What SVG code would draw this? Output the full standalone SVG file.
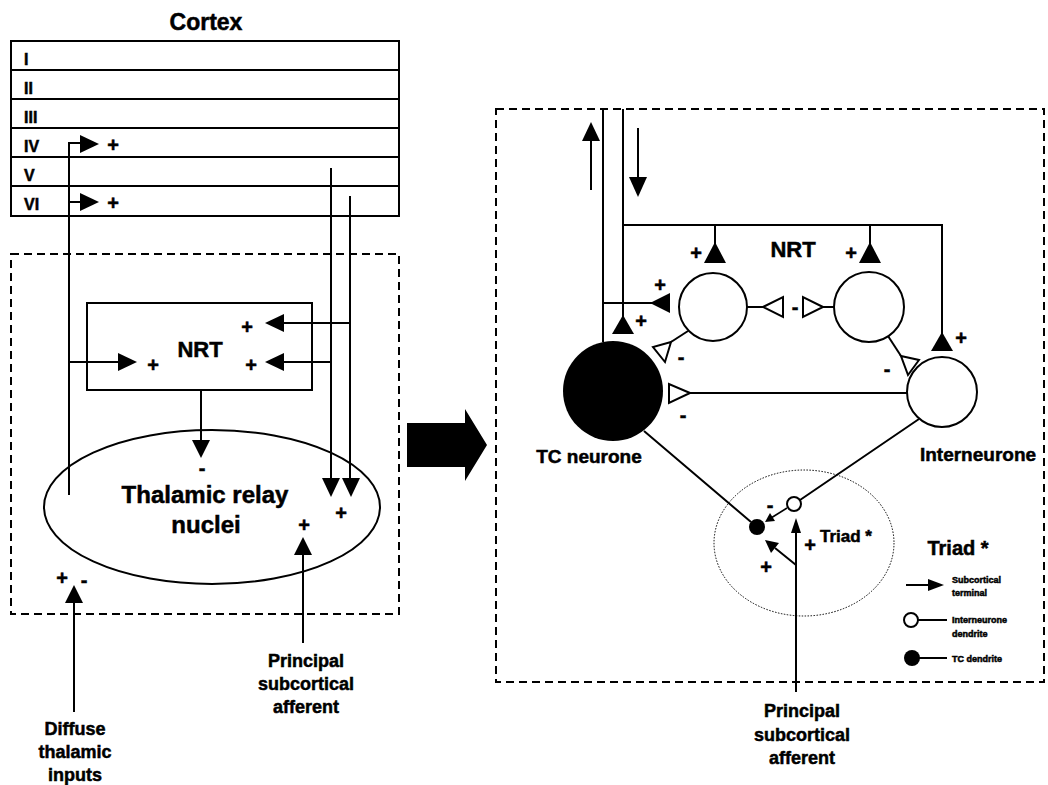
<svg xmlns="http://www.w3.org/2000/svg" width="1048" height="785" viewBox="0 0 1048 785">
<style>
.t{font-family:"Liberation Sans",Arial,Helvetica,sans-serif;font-weight:bold;fill:#000;stroke:#000;stroke-width:0.5}
.m{text-anchor:middle}
.s{font-size:18px}
.g{font-size:20px}
.ln{stroke:#000;stroke-width:2;fill:none}
.thin{stroke:#000;stroke-width:1.6;fill:none}
.dash{stroke:#000;stroke-width:2;fill:none;stroke-dasharray:8 5}
.dot{stroke:#000;stroke-width:1;fill:none;stroke-dasharray:1.5 1.5}
.f{fill:#000;stroke:none}
.o{fill:#fff;stroke:#000;stroke-width:2}
</style>
<rect width="1048" height="785" fill="#fff"/>

<!-- ============ LEFT PANEL ============ -->
<g id="cortex">
  <text class="t m" x="206" y="30" font-size="23">Cortex</text>
  <rect class="ln" x="11" y="41" width="388" height="175"/>
  <path class="ln" d="M11 70H399M11 99H399M11 128H399M11 157H399M11 186H399"/>
  <g class="t" font-size="16">
    <text x="24" y="65">I</text>
    <text x="24" y="94">II</text>
    <text x="24" y="123">III</text>
    <text x="24" y="152">IV</text>
    <text x="24" y="181">V</text>
    <text x="24" y="210">VI</text>
  </g>
</g>

<g id="thalamus-region">
  <rect class="dash" x="11" y="254" width="388" height="360"/>
</g>

<g id="nrt-left">
  <rect class="ln" x="87" y="303" width="225" height="87"/>
  <text class="t m" x="200" y="357" font-size="22">NRT</text>
</g>

<g id="thalamic-relay-nuclei">
  <ellipse class="ln" cx="212" cy="507" rx="168" ry="77"/>
  <text class="t m" x="205" y="503" font-size="24">Thalamic relay</text>
  <text class="t m" x="206" y="533" font-size="24">nuclei</text>
</g>

<g id="left-connectors">
  <!-- thalamocortical axon -->
  <path class="ln" d="M69 495V143H82M69 202H82M69 362H120"/>
  <polygon class="f" points="99,144 80,135 80,153"/>
  <polygon class="f" points="99,202 80,193 80,211"/>
  <polygon class="f" points="137,362 118,353 118,371"/>
  <!-- corticothalamic axons -->
  <path class="ln" d="M331 168V480M350 196V480M350 323H282M331 362H282"/>
  <polygon class="f" points="265,323 284,314 284,332"/>
  <polygon class="f" points="265,362 284,353 284,371"/>
  <polygon class="f" points="331,497 322,478 340,478"/>
  <polygon class="f" points="351,497 342,478 360,478"/>
  <!-- NRT to relay -->
  <path class="ln" d="M201 390V442"/>
  <polygon class="f" points="201,458 192,440 210,440"/>
  <!-- principal afferent -->
  <path class="ln" d="M303 643V553"/>
  <polygon class="f" points="303,537 294,555 312,555"/>
  <!-- diffuse input -->
  <path class="ln" d="M74 712V600"/>
  <polygon class="f" points="74,585 65,603 83,603"/>
</g>

<g id="left-signs" class="t m g">
  <text x="113" y="152">+</text>
  <text x="113" y="210">+</text>
  <text x="153" y="372">+</text>
  <text x="247" y="334">+</text>
  <text x="251" y="372">+</text>
  <text x="202" y="475">-</text>
  <text x="341" y="520">+</text>
  <text x="304" y="532">+</text>
  <text x="62" y="585">+</text>
  <text x="84" y="587">-</text>
</g>

<g id="left-labels" class="t m s">
  <text x="306" y="667">Principal</text>
  <text x="306" y="690">subcortical</text>
  <text x="306" y="713">afferent</text>
  <text x="75" y="735">Diffuse</text>
  <text x="75" y="758">thalamic</text>
  <text x="75" y="781">inputs</text>
</g>

<!-- big arrow -->
<g id="transition-arrow">
  <polygon class="f" points="407,423 465,423 465,409 487,445 465,481 465,467 407,467"/>
</g>

<!-- ============ RIGHT PANEL ============ -->
<g id="detail-region">
  <rect class="dash" x="496" y="109" width="548" height="573"/>
</g>

<g id="tc-neurone">
  <circle class="f" cx="613" cy="391" r="50"/>
  <text class="t m" x="589" y="463" font-size="19">TC neurone</text>
</g>

<g id="nrt-cell-1">
  <circle class="o" cx="713" cy="307" r="34"/>
</g>
<g id="nrt-cell-2">
  <circle class="o" cx="869" cy="307" r="35"/>
</g>
<text class="t m" x="793" y="257" font-size="22">NRT</text>

<g id="interneurone">
  <circle class="o" cx="942" cy="392" r="35"/>
  <text class="t m" x="978" y="461" font-size="19">Interneurone</text>
</g>

<g id="triad">
  <ellipse class="dot" cx="804" cy="543" rx="90" ry="73"/>
  <circle class="f" cx="757" cy="527" r="8"/>
  <circle class="o" cx="794" cy="504" r="7"/>
  <text class="t" x="820" y="542" font-size="17">Triad *</text>
</g>

<g id="right-connectors">
  <!-- up/down direction arrows -->
  <path class="ln" d="M591 190V138M638 128V180"/>
  <polygon class="f" points="591,122 582,141 600,141"/>
  <polygon class="f" points="638,197 629,177 647,177"/>
  <!-- TC axon and corticothalamic axon -->
  <path class="ln" d="M603 109V342M623 109V317M603 303H652"/>
  <polygon class="f" points="650,303 670,293 670,313"/>
  <polygon class="f" points="623,315 612,334 634,334"/>
  <!-- corticothalamic collaterals to NRT and interneurone -->
  <path class="ln" d="M623 225H942V334M715 225V245M870 225V245"/>
  <polygon class="f" points="715,242 704,263 726,263"/>
  <polygon class="f" points="870,242 859,263 881,263"/>
  <polygon class="f" points="942,332 931,351 953,351"/>
  <!-- NRT - NRT mutual inhibition -->
  <path class="ln" d="M747 307H764M820 307H834"/>
  <polygon class="o" points="763,307 783,297 783,317"/>
  <polygon class="o" points="823,307 803,297 803,317"/>
  <!-- NRT1 to TC -->
  <path class="ln" d="M688 331L671,342"/>
  <polygon class="o" points="671,342 653,347 665,362"/>
  <!-- NRT2 to interneurone -->
  <path class="ln" d="M888 336L901,356"/>
  <polygon class="o" points="901,356 919,360 908,375"/>
  <!-- interneurone to TC -->
  <path class="ln" d="M907 393H690"/>
  <polygon class="o" points="690,393 669,384 669,403"/>
  <!-- dendrites to triad -->
  <path class="ln" d="M644 431L751,522M919 419L800,500"/>
  <!-- triad synapses -->
  <path class="thin" d="M787 508L771,518"/>
  <polygon class="f" points="765,522 770,513 775,521"/>
  <path class="ln" d="M796 692V530M796 565L775,548"/>
  <polygon class="f" points="796,518 791,533 801,533"/>
  <polygon class="f" points="765,540 779,543 771,553"/>
</g>

<g id="right-signs" class="t m g">
  <text x="696" y="260">+</text>
  <text x="851" y="260">+</text>
  <text x="660" y="292">+</text>
  <text x="641" y="328">+</text>
  <text x="961" y="345">+</text>
  <text x="795" y="314">-</text>
  <text x="681" y="364">-</text>
  <text x="887" y="376">-</text>
  <text x="683" y="422">-</text>
  <text x="770" y="512">-</text>
  <text x="810" y="552">+</text>
  <text x="766" y="574">+</text>
</g>

<g id="legend">
  <text class="t m" x="958" y="555" font-size="20">Triad *</text>
  <path class="ln" d="M906 585H930"/>
  <polygon class="f" points="944,585 928,579 928,591"/>
  <circle class="o" cx="911" cy="620" r="7"/>
  <path class="ln" d="M918 620H947"/>
  <circle class="f" cx="912" cy="658" r="8"/>
  <path class="ln" d="M919 658H947"/>
  <g class="t" font-size="9">
    <text x="952" y="583">Subcortical</text>
    <text x="952" y="596">terminal</text>
    <text x="952" y="623">Interneurone</text>
    <text x="952" y="637">dendrite</text>
    <text x="952" y="662">TC dendrite</text>
  </g>
</g>

<g id="right-labels" class="t m s">
  <text x="802" y="717">Principal</text>
  <text x="802" y="741">subcortical</text>
  <text x="802" y="764">afferent</text>
</g>
</svg>
